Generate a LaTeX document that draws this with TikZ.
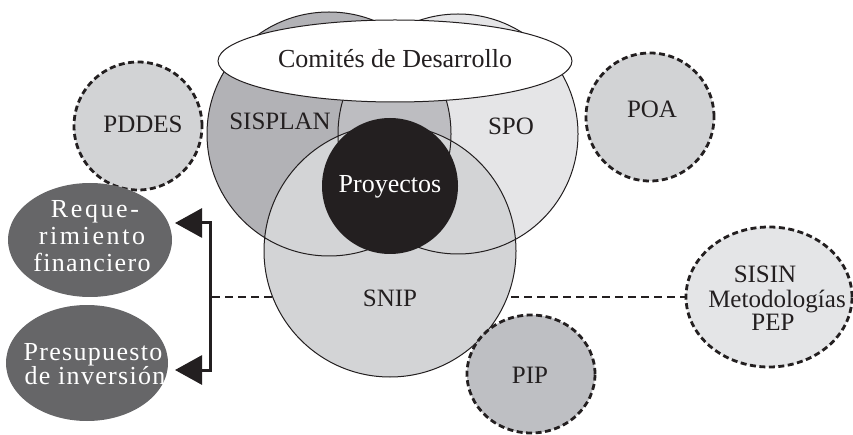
\documentclass[tikz,border=0pt]{standalone}
\usepackage{fontspec}
\setmainfont{Liberation Serif}
\newfontfamily\widefont[LetterSpace=10]{Liberation Serif}
\newfontfamily\halffont[LetterSpace=5]{Liberation Serif}
\usetikzlibrary{arrows.meta,shapes.geometric}
\definecolor{inkblack}{RGB}{35,31,32}
\definecolor{sisplanfill}{RGB}{178,178,182}
\definecolor{bothfill}{RGB}{189,189,193}
\definecolor{spofill}{RGB}{229,229,231}
\definecolor{snipfill}{RGB}{211,212,214}
\definecolor{ringfill}{RGB}{210,211,213}
\definecolor{pipfill}{RGB}{190,191,195}
\definecolor{sisinfill}{RGB}{228,229,231}
\definecolor{darkfill}{RGB}{102,102,104}
\tikzset{
  txt/.style={anchor=base, inner sep=0pt, text=inkblack, font=\fontsize{25}{27}\selectfont},
  wtxt/.style={anchor=base, inner sep=0pt, text=white, font=\fontsize{26}{27}\selectfont},
  venn/.style={draw=inkblack, line width=1pt},
  dashring/.style={draw=inkblack, line width=2.8pt, dash pattern=on 6pt off 3.5pt},
  link/.style={draw=inkblack, line width=2.8pt, dash pattern=on 8pt off 5pt},
  bracket/.style={draw=inkblack, line width=3pt, line join=miter,
    {Triangle[length=27pt,width=29pt]}-{Triangle[length=27pt,width=29pt]}},
}
\begin{document}
\begin{tikzpicture}[x=1pt,y=-1pt]
  \useasboundingbox (0,0) rectangle (853,435);
  % centres of the venn circles
  \coordinate (sisplan) at (329,134);
  \coordinate (spo) at (458,134);
  \coordinate (snip) at (390,251);
  \coordinate (proy) at (390,186);
  % satellites
  \node[circle, dashring, fill=ringfill, minimum size=128pt] (pddes) at (138,126) {};
  \node[circle, dashring, fill=ringfill, minimum size=128pt] (poa) at (650,117) {};
  \node[ellipse, dashring, fill=sisinfill, minimum width=166pt, minimum height=140pt] (sisin) at (769,297) {};
  % connectors
  \coordinate (jtop) at (210,223);
  \coordinate (jmid) at (212,297);
  \coordinate (jbot) at (210,370);
  \coordinate (rtip) at (175,223);
  \coordinate (ptip) at (175,370);
  \draw[link] (jmid) -- (jmid -| sisin.west);
  % venn
  \fill[sisplanfill] (sisplan) circle[radius=122];
  \fill[spofill] (spo) circle[radius=120];
  \begin{scope}
    \clip (sisplan) circle[radius=122];
    \fill[bothfill] (spo) circle[radius=120];
  \end{scope}
  \fill[snipfill] (snip) circle[radius=126];
  \draw[venn] (sisplan) circle[radius=122] (spo) circle[radius=120] (snip) circle[radius=126];
  \fill[inkblack] (proy) circle[radius=68];
  \draw[venn, fill=white] (395,61) ellipse[x radius=177, y radius=41];
  \node[ellipse, dashring, fill=pipfill, minimum width=128pt, minimum height=118pt] (pip) at (531,374) {};
  % left side
  \node[ellipse, fill=darkfill, minimum width=164pt, minimum height=114pt, inner sep=0pt] (req) at (90,240) {};
  \node[ellipse, fill=darkfill, minimum width=162pt, minimum height=116pt, inner sep=0pt] (pres) at (87,363) {};
  \draw[bracket] (rtip) -- (jtop) -- (jbot) -- (ptip);
  % labels
  \node[txt, font=\fontsize{26}{27}\selectfont] (comites) at (395,68) {Comités de Desarrollo};
  \node[txt] (sisplanlbl) at (280,130) {SISPLAN};
  \node[txt] (spolbl) at (511,135) {SPO};
  \node[wtxt] (proylbl) at (390,193) {Proyectos};
  \node[txt] (sniplbl) at (390,306) {SNIP};
  \node[txt] (pddeslbl) at (143,133) {PDDES};
  \node[txt] (poalbl) at (652,118) {POA};
  \node[txt] (piplbl) at (530,383) {PIP};
  \node[txt] (sisin1) at (765,283) {SISIN};
  \node[txt] (sisin2) at (777,307) {Metodologías};
  \node[txt] (sisin3) at (773,330) {PEP};
  \node[wtxt, font=\fontsize{26}{27}\widefont] (req1) at (95,218) {Reque-};
  \node[wtxt, font=\fontsize{26}{27}\widefont] (req2) at (92,245) {rimiento};
  \node[wtxt, font=\fontsize{26}{27}\halffont] (req3) at (92,272) {financiero};
  \node[wtxt, font=\fontsize{26}{27}\halffont] (pres1) at (93,360) {Presupuesto};
  \node[wtxt, font=\fontsize{26}{27}\halffont] (pres2) at (95,384) {de inversión};
\end{tikzpicture}
\end{document}
